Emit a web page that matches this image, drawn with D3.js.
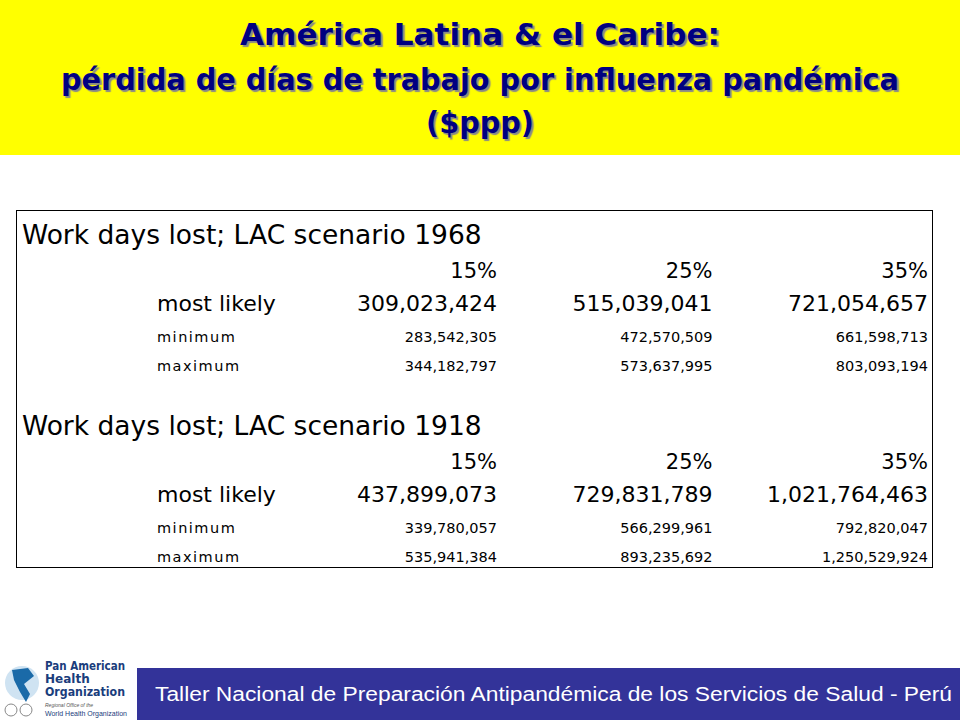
<!DOCTYPE html>
<html><head><meta charset="utf-8">
<script src="https://cdn.jsdelivr.net/npm/d3@7"></script>
<style>body{margin:0;background:#fff}</style>
</head><body>
<svg width="960" height="720"></svg>
<script>
var WIDTH = 960, HEIGHT = 720;

var scenarios = ['Work days lost; LAC scenario 1968', 'Work days lost; LAC scenario 1918'];
var attackRates = ['15%', '25%', '35%'];
var rowLabels = ['most likely', 'minimum', 'maximum'];
var values1968 = [
    ['309,023,424', '515,039,041', '721,054,657'],
    ['283,542,305', '472,570,509', '661,598,713'],
    ['344,182,797', '573,637,995', '803,093,194']
];
var values1918 = [
    ['437,899,073', '729,831,789', '1,021,764,463'],
    ['339,780,057', '566,299,961', '792,820,047'],
    ['535,941,384', '893,235,692', '1,250,529,924']
];
var blocks = [values1968, values1918];

var svg = d3.select('svg');
var font = 'Tahoma, "DejaVu Sans", Verdana, sans-serif';

// title band
svg.append('rect').attr('width', WIDTH).attr('height', 155).attr('fill', '#ffff00');
var titles = ['América Latina & el Caribe:', 'pérdida de días de trabajo por influenza pandémica', '($ppp)'];
var ty = [45, 90, 133];
var tw = [480, 838, 108];
titles.forEach(function(t, i) {
    svg.append('text').attr('x', 480).attr('y', ty[i])
        .attr('text-anchor', 'middle').attr('font-family', '"DejaVu Sans Condensed", "DejaVu Sans", sans-serif')
        .attr('font-weight', 'bold').attr('font-size', 31)
        .attr('textLength', tw[i]).attr('lengthAdjust', 'spacingAndGlyphs')
        .style('text-shadow', '2px 2px 1px #888')
        .attr('fill', '#000080').text(t);
});

// table
svg.append('rect').attr('x', 16.5).attr('y', 210.5).attr('width', 916).attr('height', 357)
    .attr('fill', 'none').attr('stroke', '#000').attr('stroke-width', 1);

var x = d3.scalePoint().domain(attackRates).range([497, 928]);
var blockY = d3.scalePoint().domain([0, 1]).range([0, 191]);

blocks.forEach(function(vals, b) {
    var g = svg.append('g').attr('transform', 'translate(0,' + blockY(b) + ')');
    g.append('text').attr('x', 22).attr('y', 244).attr('font-family', font)
        .attr('font-size', 26.5).text(scenarios[b]);
    g.selectAll('.hdr').data(attackRates).enter().append('text')
        .attr('x', function(d) { return x(d); }).attr('y', 278)
        .attr('text-anchor', 'end').attr('font-family', font).attr('font-size', 21)
        .text(function(d) { return d; });
    var rowY = [311, 342, 371];
    var rowSize = [22, 14.5, 14.5];
    rowLabels.forEach(function(lab, r) {
        g.append('text').attr('x', 157).attr('y', rowY[r]).attr('font-family', font)
            .attr('font-size', rowSize[r]).attr('letter-spacing', r ? 1.5 : 0).text(lab);
        g.selectAll('.v' + r).data(vals[r]).enter().append('text')
            .attr('x', function(d, i) { return x(attackRates[i]); }).attr('y', rowY[r])
            .attr('text-anchor', 'end').attr('font-family', font).attr('font-size', rowSize[r])
            .text(function(d) { return d; });
    });
});

// footer
svg.append('rect').attr('x', 137).attr('y', 668).attr('width', 823).attr('height', 52).attr('fill', '#333399');
svg.append('text').attr('x', 155).attr('y', 701).attr('font-family', '"Liberation Sans", Arial, sans-serif')
    .attr('font-size', 20).attr('fill', '#fff').attr('textLength', 797).attr('lengthAdjust', 'spacingAndGlyphs')
    .text('Taller Nacional de Preparación Antipandémica de los Servicios de Salud - Perú');

// logo
var lg = svg.append('g');
lg.append('circle').attr('cx', 22).attr('cy', 683).attr('r', 17).attr('fill', '#cfe3f2');
lg.append('path').attr('d', 'M12,670 L28,668 L34,676 L24,684 L30,694 L26,702 L20,692 L14,680Z').attr('fill', '#1a6aa8');
[['Pan American', 670], ['Health', 683], ['Organization', 696]].forEach(function(t) {
    lg.append('text').attr('x', 45).attr('y', t[1]).attr('font-family', '"DejaVu Sans", sans-serif')
        .attr('font-weight', 'bold').attr('font-size', 12).attr('textLength', t[0].length > 6 ? 80 : null)
        .attr('lengthAdjust', 'spacingAndGlyphs').attr('fill', '#1a3d7c').text(t[0]);
});
lg.append('circle').attr('cx', 11).attr('cy', 710).attr('r', 6).attr('fill', 'none').attr('stroke', '#888');
lg.append('circle').attr('cx', 26).attr('cy', 710).attr('r', 6).attr('fill', 'none').attr('stroke', '#888');
lg.append('text').attr('x', 45).attr('y', 707).attr('font-family', 'Arial, sans-serif')
    .attr('font-size', 5).attr('font-style', 'italic').attr('fill', '#555').text('Regional Office of the');
lg.append('text').attr('x', 45).attr('y', 716).attr('font-family', 'Arial, sans-serif')
    .attr('font-size', 7).attr('fill', '#1a3d7c').text('World Health Organization');
</script>
</body></html>
